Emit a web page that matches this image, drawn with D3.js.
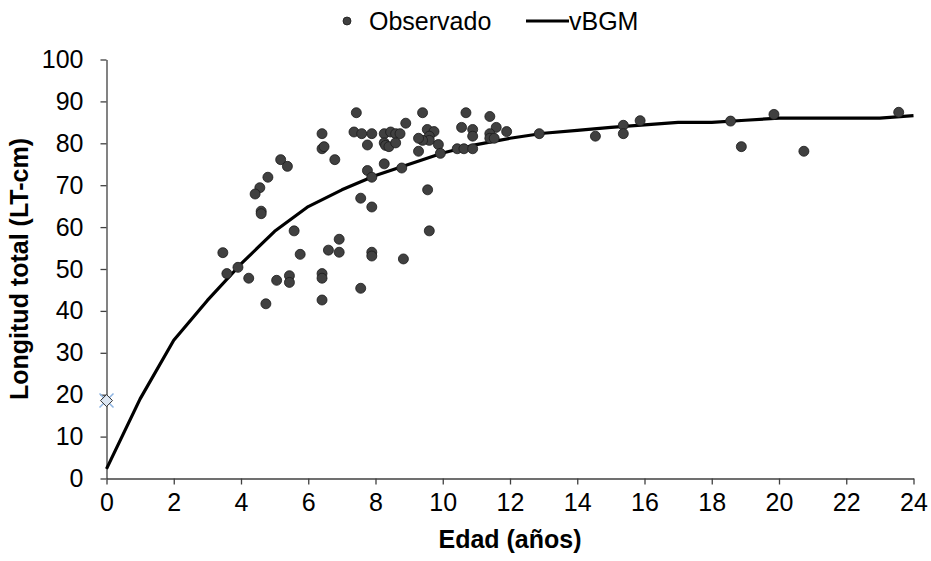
<!DOCTYPE html>
<html>
<head>
<meta charset="utf-8">
<script src="https://cdn.jsdelivr.net/npm/d3@7"></script>
<style>
    body { margin: 0; background: #fff; }
    svg { font-family: Arial, "Liberation Sans", sans-serif; }
</style>
</head>
<body>
<svg width="931" height="561"></svg>
<script>
// Observado: edad (años) y longitud total (cm)
const obsAge = [
    7.43, 6.41, 7.36, 7.59, 7.89, 8.26, 8.45, 8.60, 8.73, 8.26, 8.30, 8.40, 8.60, 7.76,
    6.41, 6.47, 6.79, 5.18, 5.38, 8.26, 7.76, 7.89, 4.80, 4.56, 4.42, 4.60, 4.60, 7.56,
    7.89, 5.58, 3.46, 3.58, 3.91, 4.23, 5.06, 5.44, 5.44, 5.76, 6.60, 6.92, 6.92, 6.41,
    6.41, 7.89, 7.89, 7.56, 8.83, 4.74, 6.41,
    9.40, 10.69, 11.40, 8.90, 10.56, 10.89, 10.89, 11.59, 11.90, 11.40, 11.40, 11.53,
    9.54, 9.74, 9.60, 9.60, 9.40, 9.28, 9.87, 9.28, 9.93, 10.43, 10.63, 10.89, 8.78,
    9.55, 9.60, 12.87,
    14.54, 15.37, 15.37, 15.87, 18.56, 18.88, 19.85, 20.74, 23.56
];
const obsLength = [
    87.3, 82.3, 82.7, 82.3, 82.3, 82.3, 82.7, 82.3, 82.3, 80.1, 79.5, 79.2, 80.1, 79.6,
    78.7, 79.2, 76.1, 76.1, 74.5, 75.1, 73.5, 71.9, 71.9, 69.4, 67.9, 63.8, 63.2, 66.9,
    64.8, 59.1, 53.9, 48.9, 50.4, 47.8, 47.3, 48.4, 46.8, 53.5, 54.5, 57.1, 54.0, 48.9,
    47.8, 54.0, 53.1, 45.4, 52.4, 41.7, 42.6,
    87.3, 87.3, 86.4, 84.8, 83.8, 83.3, 81.7, 83.8, 82.8, 82.3, 81.2, 81.2,
    83.3, 82.8, 81.7, 80.7, 80.7, 81.2, 79.7, 78.1, 77.6, 78.7, 78.7, 78.7, 74.1,
    68.9, 59.1, 82.3,
    81.7, 84.3, 82.3, 85.4, 85.3, 79.2, 86.9, 78.1, 87.4
];

// vBGM: curva ajustada, leída por año
const curveAge = [0, 1, 2, 3, 4, 5, 6, 7, 8, 9, 10, 11, 12, 13, 14, 15, 16, 17, 18, 19, 20, 21, 22, 23, 24];
const curveLength = [2.3, 19.0, 33.0, 42.5, 51.2, 59.0, 64.9, 68.9, 72.3, 75.0, 77.7, 79.7, 81.2, 82.4,
    83.1, 83.8, 84.4, 85.0, 85.0, 85.5, 86.0, 86.0, 86.0, 86.0, 86.6];

// Talla de nacimiento (marcador aparte)
const birthAge = [0];
const birthLength = [18.6];

const xTicks = d3.range(0, 25, 2);
const yTicks = d3.range(0, 101, 10);

const W = 931, H = 561;
const LEFT = 106.5, RIGHT = 913.5, TOP = 59.5, BOTTOM = 478.5;
const AXIS = '#404040', MARKER = '#404040', LINE = '#000';
const FONT = 25;

const svg = d3.select('svg');

const x = d3.scaleLinear().domain([0, 24]).range([LEFT, RIGHT]);
const y = d3.scaleLinear().domain([0, 100]).range([BOTTOM, TOP]);

// Ejes
const xAxis = svg.append('g')
    .attr('transform', `translate(0,${BOTTOM})`)
    .call(d3.axisBottom(x).tickValues(xTicks).tickSize(6).tickPadding(9).tickSizeOuter(0));
const yAxis = svg.append('g')
    .attr('transform', `translate(${LEFT},0)`)
    .call(d3.axisLeft(y).tickValues(yTicks).tickSize(6).tickPadding(17).tickSizeOuter(0));

[xAxis, yAxis].forEach(function (g) {
    g.selectAll('path, line').attr('stroke', AXIS).attr('stroke-width', 1.3);
    g.selectAll('text')
        .attr('fill', '#000')
        .style('font-size', FONT + 'px')
        .style('font-family', 'Arial, "Liberation Sans", sans-serif');
});

// Curva vBGM
const pts = curveAge.map((a, i) => [a, curveLength[i]]);
svg.append('path')
    .datum(pts)
    .attr('d', d3.line().x(d => x(d[0])).y(d => y(d[1])))
    .attr('fill', 'none')
    .attr('stroke', LINE)
    .attr('stroke-width', 3.2)
    .attr('stroke-linejoin', 'round');

// Observado
svg.append('g')
    .selectAll('circle')
    .data(obsAge.map((a, i) => [a, obsLength[i]]))
    .join('circle')
    .attr('cx', d => x(d[0]))
    .attr('cy', d => y(d[1]))
    .attr('r', 5)
    .attr('fill', MARKER)
    .attr('stroke', '#1a1a1a')
    .attr('stroke-width', 0.8);

// Marcador de nacimiento: rombo con aspa
birthAge.forEach(function (a, i) {
    const cx = x(a), cy = y(birthLength[i]);
    const s = 7;
    svg.append('path')
        .attr('d', `M${cx - s},${cy - s}L${cx + s},${cy + s}M${cx - s},${cy + s}L${cx + s},${cy - s}`)
        .attr('stroke', '#8db4e2')
        .attr('stroke-width', 1.5);
    svg.append('path')
        .attr('d', `M${cx},${cy - 6}L${cx + 6},${cy}L${cx},${cy + 6}L${cx - 6},${cy}Z`)
        .attr('fill', '#dce6f2')
        .attr('stroke', '#333')
        .attr('stroke-width', 1);
});

// Títulos de ejes
svg.append('text')
    .attr('x', (LEFT + RIGHT) / 2)
    .attr('y', 548)
    .attr('text-anchor', 'middle')
    .style('font-size', FONT + 'px')
    .style('font-weight', 'bold')
    .text('Edad (años)');

svg.append('text')
    .attr('transform', `translate(28,${(TOP + BOTTOM) / 2}) rotate(-90)`)
    .attr('text-anchor', 'middle')
    .style('font-size', FONT + 'px')
    .style('font-weight', 'bold')
    .text('Longitud total (LT-cm)');

// Leyenda
const legend = svg.append('g');
legend.append('circle')
    .attr('cx', 347).attr('cy', 21).attr('r', 4)
    .attr('fill', MARKER).attr('stroke', '#1a1a1a').attr('stroke-width', 0.8);
legend.append('text')
    .attr('x', 369).attr('y', 30)
    .style('font-size', FONT + 'px')
    .text('Observado');
legend.append('line')
    .attr('x1', 526).attr('x2', 569).attr('y1', 21).attr('y2', 21)
    .attr('stroke', LINE).attr('stroke-width', 3);
legend.append('text')
    .attr('x', 569).attr('y', 30)
    .style('font-size', FONT + 'px')
    .text('vBGM');
</script>
</body>
</html>
